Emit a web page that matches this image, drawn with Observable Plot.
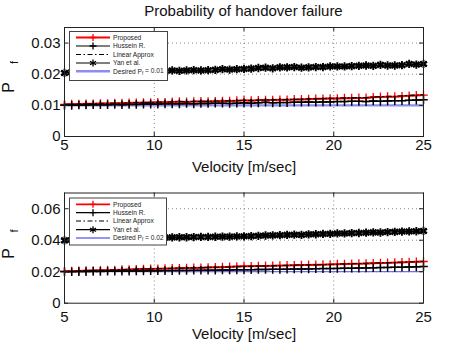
<!DOCTYPE html>
<html><head><meta charset="utf-8">
<script src="https://cdn.jsdelivr.net/npm/d3@7"></script>
<script src="https://cdn.jsdelivr.net/npm/@observablehq/plot@0.6"></script>
<style>
body{margin:0;background:#fff;}
#wrap{position:relative;width:466px;height:350px;overflow:hidden;font-family:"Liberation Sans",Arial,Helvetica,sans-serif;}
.abs{position:absolute;}
#title{left:64px;width:359px;top:2px;text-align:center;font-size:15px;line-height:17px;color:#111;}
</style></head><body><div id="wrap"><div id="title" class="abs">Probability of handover failure</div></div>
<script>
const titleText = "Probability of handover failure";
const xLabel = "Velocity [m/sec]";
const seriesNames = ["Proposed", "Hussein R.", "Linear Approx", "Yan et al."];
const xTicks = [5, 10, 15, 20, 25];

const velocity = [5.0,5.4,5.8,6.2,6.6,7.0,7.4,7.8,8.2,8.6,9.0,9.4,9.8,10.2,10.6,11.0,11.4,11.8,12.2,12.6,13.0,13.4,13.8,14.2,14.6,15.0,15.4,15.8,16.2,16.6,17.0,17.4,17.8,18.2,18.6,19.0,19.4,19.8,20.2,20.6,21.0,21.4,21.8,22.2,22.6,23.0,23.4,23.8,24.2,24.6,25.0];

// Panel 1 (desired Pf = 0.01)
const yTicks1 = [0, 0.01, 0.02, 0.03];
const yTickLabels1 = ["0", "0.01", "0.02", "0.03"];
const desired1 = 0.01;
const proposed1 = [
0.0103,0.0104,0.0104,0.0105,0.0105,0.0106,0.0106,0.0107,0.0107,0.0108,
0.0108,0.0109,0.0109,0.0110,0.0110,0.0111,0.0112,0.0111,0.0112,0.0113,
0.0112,0.0113,0.0114,0.0114,0.0115,0.0116,0.0115,0.0116,0.0117,0.0117,
0.0118,0.0118,0.0119,0.0119,0.0120,0.0121,0.0121,0.0122,0.0122,0.0123,
0.0123,0.0124,0.0124,0.0126,0.0127,0.0128,0.0128,0.0129,0.0131,0.0132,0.0133];
const hussein1 = [
0.0100,0.0100,0.0101,0.0101,0.0102,0.0102,0.0102,0.0103,0.0102,0.0103,
0.0103,0.0104,0.0104,0.0104,0.0105,0.0105,0.0105,0.0106,0.0105,0.0106,
0.0106,0.0107,0.0107,0.0106,0.0107,0.0108,0.0107,0.0108,0.0110,0.0108,
0.0109,0.0109,0.0110,0.0110,0.0111,0.0110,0.0111,0.0111,0.0112,0.0112,
0.0113,0.0113,0.0112,0.0114,0.0113,0.0114,0.0115,0.0115,0.0116,0.0117,0.0118];
const linear1 = [
0.0103,0.0103,0.0104,0.0105,0.0105,0.0106,0.0107,0.0107,0.0107,0.0108,
0.0109,0.0109,0.0110,0.0110,0.0111,0.0111,0.0112,0.0112,0.0113,0.0112,
0.0113,0.0114,0.0114,0.0115,0.0115,0.0116,0.0116,0.0117,0.0117,0.0118,
0.0118,0.0119,0.0119,0.0120,0.0121,0.0121,0.0122,0.0123,0.0123,0.0124,
0.0124,0.0125,0.0125,0.0127,0.0128,0.0129,0.0129,0.0131,0.0132,0.0133,0.0134];
const yan1 = [
0.0204,0.0206,0.0207,0.0206,0.0208,0.0207,0.0208,0.0209,0.0208,0.0209,
0.0210,0.0209,0.0210,0.0211,0.0210,0.0212,0.0211,0.0212,0.0213,0.0212,
0.0213,0.0214,0.0216,0.0215,0.0216,0.0217,0.0218,0.0220,0.0221,0.0219,
0.0222,0.0222,0.0223,0.0221,0.0222,0.0223,0.0223,0.0225,0.0225,0.0225,
0.0226,0.0227,0.0228,0.0227,0.0230,0.0228,0.0228,0.0229,0.0233,0.0231,0.0233];

// Panel 2 (desired Pf = 0.02)
const yTicks2 = [0, 0.02, 0.04, 0.06];
const yTickLabels2 = ["0", "0.02", "0.04", "0.06"];
const desired2 = 0.02;
const proposed2 = [
0.0203,0.0204,0.0205,0.0207,0.0208,0.0209,0.0210,0.0211,0.0213,0.0214,
0.0215,0.0217,0.0218,0.0219,0.0220,0.0221,0.0222,0.0223,0.0224,0.0225,
0.0227,0.0228,0.0229,0.0231,0.0233,0.0235,0.0235,0.0236,0.0237,0.0238,
0.0239,0.0240,0.0241,0.0242,0.0243,0.0244,0.0245,0.0246,0.0248,0.0249,
0.0250,0.0251,0.0252,0.0253,0.0255,0.0256,0.0258,0.0259,0.0261,0.0263,0.0265];
const hussein2 = [
0.0200,0.0200,0.0201,0.0201,0.0202,0.0202,0.0203,0.0203,0.0204,0.0204,
0.0205,0.0205,0.0206,0.0206,0.0207,0.0207,0.0208,0.0208,0.0209,0.0209,
0.0210,0.0210,0.0211,0.0211,0.0212,0.0212,0.0213,0.0214,0.0214,0.0215,
0.0215,0.0216,0.0217,0.0217,0.0218,0.0219,0.0220,0.0220,0.0221,0.0222,
0.0222,0.0223,0.0224,0.0225,0.0226,0.0227,0.0228,0.0229,0.0230,0.0231,0.0233];
const linear2 = [
0.0202,0.0203,0.0205,0.0206,0.0208,0.0209,0.0210,0.0212,0.0213,0.0214,
0.0216,0.0217,0.0218,0.0219,0.0220,0.0222,0.0223,0.0224,0.0225,0.0226,
0.0227,0.0228,0.0229,0.0230,0.0232,0.0233,0.0234,0.0236,0.0237,0.0238,
0.0239,0.0240,0.0242,0.0243,0.0244,0.0245,0.0246,0.0247,0.0248,0.0250,
0.0251,0.0252,0.0254,0.0255,0.0256,0.0258,0.0259,0.0261,0.0262,0.0264,0.0266];
const yan2 = [
0.0399,0.0402,0.0404,0.0405,0.0406,0.0408,0.0409,0.0410,0.0411,0.0412,
0.0413,0.0415,0.0416,0.0416,0.0417,0.0418,0.0419,0.0419,0.0420,0.0421,
0.0421,0.0422,0.0423,0.0423,0.0424,0.0425,0.0426,0.0428,0.0430,0.0431,
0.0432,0.0434,0.0435,0.0434,0.0437,0.0438,0.0440,0.0441,0.0443,0.0443,
0.0445,0.0446,0.0448,0.0450,0.0449,0.0452,0.0453,0.0455,0.0456,0.0457,0.0459];

const FONT = '"Liberation Sans", Arial, Helvetica, sans-serif';
const wrap = document.getElementById("wrap");

function rows(arr) { return velocity.map((v, i) => ({v, p: arr[i]})); }

function panel(cfg) {
  const W = 466, ml = 64, mr = 43;
  const pw = W - ml - mr;
  const ph = cfg.height - cfg.mt - cfg.mb;
  const fmt = d => cfg.yLabels[cfg.yTicks.indexOf(d)];
  const gridStyle = {stroke: "#555", strokeOpacity: 0.9, strokeWidth: 0.8, strokeDasharray: "1,3"};
  const p = Plot.plot({
    width: W, height: cfg.height,
    marginLeft: ml, marginRight: mr, marginTop: cfg.mt, marginBottom: cfg.mb,
    style: {fontFamily: FONT, fontSize: "15px", color: "#111", background: "transparent", overflow: "visible"},
    x: {domain: [5, 25]},
    y: {domain: [0, cfg.yMax]},
    marks: [
      Plot.gridX(xTicks.slice(1, -1), gridStyle),
      Plot.gridY(cfg.yTicks.slice(1), gridStyle),
      Plot.ruleY([cfg.desired], {stroke: cfg.blue, strokeWidth: cfg.blueW}),
      Plot.line(rows(cfg.proposed), {x: "v", y: "p", stroke: "#ff0000", strokeWidth: 2}),
      Plot.dot(rows(cfg.proposed), {x: "v", y: "p", symbol: "plus", r: 2.9, stroke: "#ff0000", strokeWidth: 1.3}),
      Plot.line(rows(cfg.hussein), {x: "v", y: "p", stroke: "#000", strokeWidth: 1.3}),
      Plot.dot(rows(cfg.hussein), {x: "v", y: "p", symbol: "plus", r: 2.9, stroke: "#000", strokeWidth: 1.5}),
      Plot.line(rows(cfg.linear), {x: "v", y: "p", stroke: "#000", strokeWidth: 1.1, strokeDasharray: "5,2.5,1.5,2.5"}),
      Plot.line(rows(cfg.yan), {x: "v", y: "p", stroke: "#000", strokeWidth: 1.4}),
      Plot.dot(rows(cfg.yan), {x: "v", y: "p", symbol: "asterisk", r: 3.9, stroke: "#000", strokeWidth: 1.9}),
      Plot.dot(rows(cfg.yan), {x: "v", y: "p", symbol: "times", r: 2.8, stroke: "#000", strokeWidth: 1.6}),
      Plot.tickX(xTicks, {x: d => d, insetTop: ph - 4, stroke: "#222"}),
      Plot.tickX(xTicks, {x: d => d, insetBottom: ph - 4, stroke: "#222"}),
      Plot.tickY(cfg.yTicks, {y: d => d, insetRight: pw - 4, stroke: "#222"}),
      Plot.tickY(cfg.yTicks, {y: d => d, insetLeft: pw - 4, stroke: "#222"}),
      Plot.frame({stroke: "#222", strokeWidth: 1}),
      Plot.axisX(xTicks, {tickSize: 0, tickPadding: cfg.xPad, label: null, fontSize: 15, fill: "#111"}),
      Plot.axisY(cfg.yTicks, {tickSize: 0, tickPadding: 4, tickFormat: fmt, label: null, fontSize: 15, fill: "#111"}),
      Plot.text([xLabel], {frameAnchor: "bottom", lineAnchor: "top", dy: cfg.xLabDy, text: d => d, fontSize: 15, fill: "#111"})
    ]
  });
  p.style.position = "absolute";
  p.style.left = "0px";
  p.style.top = cfg.top + "px";
  wrap.appendChild(p);
}

panel({top: 0, height: 177, mt: 27, mb: 41, yMax: 0.035, yTicks: yTicks1, yLabels: yTickLabels1,
  desired: desired1, blue: "#8c8cf2", blueW: 2.4, proposed: proposed1, hussein: hussein1, linear: linear1, yan: yan1, xPad: 3, xLabDy: 25});
panel({top: 177, height: 173, mt: 15.5, mb: 47.3, yMax: 0.07, yTicks: yTicks2, yLabels: yTickLabels2,
  desired: desired2, blue: "#6f6ff6", blueW: 1.3, proposed: proposed2, hussein: hussein2, linear: linear2, yan: yan2, xPad: 8, xLabDy: 25});

// overlay: y-axis labels and legends
const ov = d3.select(wrap).append("svg")
  .attr("width", 466).attr("height", 350)
  .style("position", "absolute").style("left", "0px").style("top", "0px")
  .style("font-family", FONT);

function yLab(pY, fY) {
  ov.append("text").attr("transform", `translate(14,${pY}) rotate(-90)`)
    .attr("text-anchor", "middle").attr("font-size", 16).attr("fill", "#111").text("P");
  ov.append("text").attr("transform", `translate(17.5,${fY}) rotate(-90)`)
    .attr("text-anchor", "middle").attr("font-size", 11).attr("fill", "#111").text("f");
}
yLab(87.5, 62.5);
yLab(253.5, 231);

function legend(x, y, w, h, rowY, desiredLabel, blue, blueW) {
  const g = ov.append("g").attr("transform", `translate(${x},${y})`);
  g.append("rect").attr("x", 0.5).attr("y", 0.5).attr("width", w).attr("height", h)
    .attr("fill", "#fff").attr("stroke", "#444").attr("stroke-width", 1);
  const styles = [
    {stroke: "#ff0000", sw: 1.8, marker: d3.symbolPlus, ms: 18},
    {stroke: "#000", sw: 1.2, marker: d3.symbolPlus, ms: 18},
    {stroke: "#000", sw: 1.1, dash: "5,2.5,1.5,2.5"},
    {stroke: "#000", sw: 1.2, marker: d3.symbolAsterisk, ms: 34},
    {stroke: blue, sw: blueW}
  ];
  const labels = seriesNames.concat([desiredLabel]);
  labels.forEach((lab, i) => {
    const s = styles[i], yy = rowY[i];
    g.append("line").attr("x1", 7).attr("x2", 41).attr("y1", yy).attr("y2", yy)
      .attr("stroke", s.stroke).attr("stroke-width", s.sw).attr("stroke-dasharray", s.dash || null);
    if (s.marker) g.append("path").attr("d", d3.symbol(s.marker, s.ms)())
      .attr("transform", `translate(24,${yy})`).attr("fill", "none").attr("stroke", s.stroke).attr("stroke-width", 1.3);
    const t = g.append("text").attr("x", 44).attr("y", yy).attr("dy", "0.35em")
      .attr("font-size", 6.6).attr("fill", "#222");
    if (Array.isArray(lab)) {
      t.append("tspan").text(lab[0]);
      t.append("tspan").attr("font-size", 4.5).attr("dy", "0.25em").text(lab[1]);
      t.append("tspan").attr("dy", "-0.25em").text(lab[2]);
    } else t.text(lab);
  });
}
legend(69, 31, 98, 49, [6.5, 15, 23.5, 32, 40.3], ["Desired P", "f", " = 0.01"], "#8c8cf2", 2.4);
legend(69, 197.5, 97, 47, [6.8, 15.2, 23.5, 32.2, 40.5], ["Desired P", "f", " = 0.02"], "#6f6ff6", 1.3);
</script></body></html>
